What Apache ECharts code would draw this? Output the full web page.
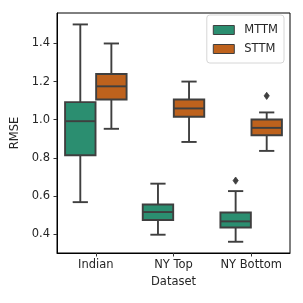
<!DOCTYPE html>
<html><head><meta charset="utf-8">
<script src="https://cdn.jsdelivr.net/npm/echarts@6/dist/echarts.min.js"></script>
<style>html,body{margin:0;padding:0;background:#fff}#c{width:303px;height:303px}</style>
</head><body><div id="c"></div>
<script>
const categories = ['Indian', 'NY Top', 'NY Bottom'];
// [lower whisker, Q1, median, Q3, upper whisker]
const mttmStats = [[0.567, 0.813, 0.992, 1.092, 1.50], [0.396, 0.473, 0.515, 0.555, 0.664], [0.359, 0.434, 0.466, 0.513, 0.625]];
const sttmStats = [[0.952, 1.106, 1.175, 1.240, 1.40], [0.883, 1.015, 1.059, 1.106, 1.20], [0.836, 0.918, 0.957, 1.001, 1.038]];
const mttmOutliers = [[2, 0.68]];
const sttmOutliers = [[2, 1.125]];
const yTicks = [0.4, 0.6, 0.8, 1.0, 1.2, 1.4];
const colors = ['#2b8e70', '#be621d'];
const lineCol = '#3f3f3f';
const font = 'DejaVu Sans';

function boxRender(side, fill) {
  return function (params, api) {
    const c = api.value(0);
    const bw = api.size([1, 0])[0];
    const cx = api.coord([c, 0])[0] + side * 0.2 * bw;
    const hw = 0.196 * bw;
    const cw = hw / 2;
    const y = [1, 2, 3, 4, 5].map(i => api.coord([c, api.value(i)])[1]);
    const st = { stroke: lineCol, lineWidth: 1.9, fill: null };
    return {
      type: 'group',
      children: [
        { type: 'line', shape: { x1: cx, y1: y[0], x2: cx, y2: y[1] }, style: st },
        { type: 'line', shape: { x1: cx, y1: y[3], x2: cx, y2: y[4] }, style: st },
        { type: 'line', shape: { x1: cx - cw, y1: y[0], x2: cx + cw, y2: y[0] }, style: st },
        { type: 'line', shape: { x1: cx - cw, y1: y[4], x2: cx + cw, y2: y[4] }, style: st },
        { type: 'rect', shape: { x: cx - hw, y: y[3], width: 2 * hw, height: y[1] - y[3] }, style: { fill: fill, stroke: lineCol, lineWidth: 1.9 } },
        { type: 'line', shape: { x1: cx - hw, y1: y[2], x2: cx + hw, y2: y[2] }, style: st }
      ]
    };
  };
}
function outRender(side) {
  return function (params, api) {
    const c = api.value(0);
    const bw = api.size([1, 0])[0];
    const p = api.coord([c, api.value(1)]);
    const cx = p[0] + side * 0.2 * bw, cy = p[1];
    return {
      type: 'polygon',
      shape: { points: [[cx, cy - 3.6], [cx + 2.6, cy], [cx, cy + 3.6], [cx - 2.6, cy]] },
      style: { fill: lineCol, stroke: lineCol, lineWidth: 0.8 }
    };
  };
}
const mttmData = mttmStats.map((s, i) => [i].concat(s));
const sttmData = sttmStats.map((s, i) => [i].concat(s));

const chart = echarts.init(document.getElementById('c'));
chart.setOption({
  animation: false,
  backgroundColor: '#fff',
  textStyle: { fontFamily: font },
  grid: { left: 57, right: 13, top: 13, bottom: 50, show: true, borderColor: '#000', borderWidth: 1, backgroundColor: 'transparent' },
  legend: {
    orient: 'vertical', right: 19, top: 15,
    data: ['MTTM', 'STTM'],
    icon: 'rect', itemWidth: 21, itemHeight: 9, itemGap: 7,
    padding: [9, 6, 8, 6],
    backgroundColor: '#fff', borderColor: '#d6d6d6', borderWidth: 1, borderRadius: 3,
    itemStyle: { borderColor: lineCol, borderWidth: 1 },
    textStyle: { fontSize: 11.5, color: '#262626', fontFamily: font, padding: [0, 0, 0, 5] }
  },
  xAxis: {
    type: 'category', data: categories,
    name: 'Dataset', nameLocation: 'middle', nameGap: 23,
    nameTextStyle: { fontSize: 11.5, color: '#262626', fontFamily: font },
    axisLine: { show: true, lineStyle: { color: '#000', width: 1 } },
    axisTick: { show: true, alignWithLabel: true, interval: 0, length: 3.5, lineStyle: { color: '#333' } },
    axisLabel: { fontSize: 11.5, color: '#262626', margin: 6, fontFamily: font, interval: 0, hideOverlap: false },
    splitLine: { show: false }
  },
  yAxis: {
    type: 'value', min: 0.30, max: 1.56,
    name: 'RMSE', nameLocation: 'middle', nameGap: 35, nameRotate: 90,
    nameTextStyle: { fontSize: 11.5, color: '#262626', fontFamily: font },
    axisLine: { show: true, lineStyle: { color: '#000', width: 1 } },
    axisTick: { show: true, length: 3.5, customValues: yTicks, lineStyle: { color: '#333' } },
    axisLabel: { fontSize: 11.5, color: '#262626', margin: 7, fontFamily: font, customValues: yTicks, formatter: v => v.toFixed(1) },
    splitLine: { show: false }
  },
  series: [
    { name: 'MTTM', type: 'custom', data: mttmData, renderItem: boxRender(-1, colors[0]), itemStyle: { color: colors[0] }, encode: { x: 0, y: [1, 2, 3, 4, 5] } },
    { name: 'STTM', type: 'custom', data: sttmData, renderItem: boxRender(1, colors[1]), itemStyle: { color: colors[1] }, encode: { x: 0, y: [1, 2, 3, 4, 5] } },
    { name: 'MTTM', type: 'custom', data: mttmOutliers, renderItem: outRender(-1), itemStyle: { color: colors[0] }, encode: { x: 0, y: 1 } },
    { name: 'STTM', type: 'custom', data: sttmOutliers, renderItem: outRender(1), itemStyle: { color: colors[1] }, encode: { x: 0, y: 1 } }
  ]
});
</script></body></html>
